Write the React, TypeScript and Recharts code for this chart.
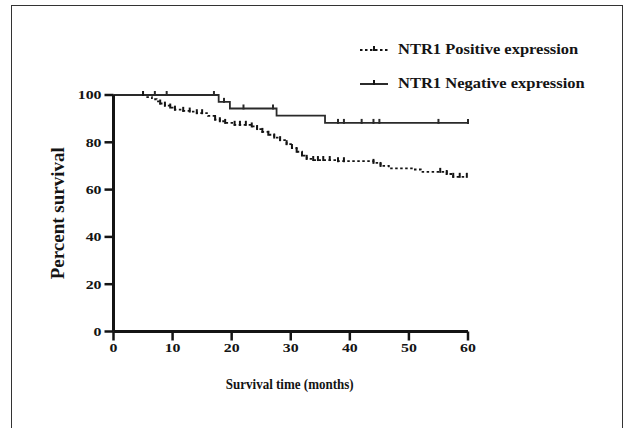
import React from "react";
import { ComposedChart, Line, XAxis, YAxis, Legend } from "recharts";

const xTicks = [0, 10, 20, 30, 40, 50, 60];
const yTicks = [0, 20, 40, 60, 80, 100];

const seriesNames = ["NTR1 Positive expression", "NTR1 Negative expression"];

const posTime = [0, 5, 5.5, 6.5, 7.3, 7.9, 8.7, 9.6, 10.4, 11.8, 12.9, 14.1, 15, 16, 17.2, 18, 18.9, 20.5, 21.4, 22.4, 23.4, 24.3, 25.2, 26.2, 27.2, 28.2, 29.3, 30.2, 31, 31.9, 32.7, 33.8, 34.6, 35.5, 36.6, 38, 39, 44, 45.2, 46.6, 50.8, 52, 55.3, 56.4, 57.5, 58.6, 59.8];
const posSurv = [100, 100, 99.1, 98.2, 97.3, 96.4, 95.5, 94.7, 93.8, 93.3, 93.0, 92.3, 92.3, 91.2, 89.6, 88.9, 88.2, 87.4, 87.4, 87.4, 86.7, 85.6, 84.4, 83.2, 82.0, 80.9, 79.2, 77.6, 76.0, 74.4, 73.0, 72.5, 72.5, 72.5, 72.5, 72.0, 72.0, 71.3, 70.0, 69.0, 68.5, 67.5, 67.5, 66.6, 65.4, 65.4, 65.4];
const posCens = [0, 1, 0, 0, 0, 1, 1, 1, 1, 1, 1, 1, 1, 0, 1, 1, 1, 1, 1, 1, 1, 1, 1, 1, 1, 1, 1, 1, 1, 1, 1, 1, 1, 1, 1, 1, 1, 1, 1, 0, 0, 0, 1, 1, 1, 1, 1];

const negTime = [0, 7, 9, 17, 17.8, 18.7, 19.7, 22, 27, 27.6, 35.8, 38, 39, 42, 44, 45, 55, 60];
const negSurv = [100, 100, 100, 100, 97.1, 97.1, 94.3, 94.3, 94.3, 91.3, 88.2, 88.2, 88.2, 88.2, 88.2, 88.2, 88.2, 88.2];
const negCens = [0, 1, 1, 1, 0, 1, 0, 1, 1, 0, 0, 1, 1, 1, 1, 1, 1, 1];

const posData = posTime.map((t, i) => ({ t, s: posSurv[i], c: posCens[i] }));
const negData = negTime.map((t, i) => ({ t, s: negSurv[i], c: negCens[i] }));

const FONT = "'Liberation Serif', 'Times New Roman', serif";
const INK = "#141414";

const censorDot = (color: string) => (props: any) => {
  const { cx, cy, payload, index } = props;
  if (!payload || !payload.c || cx == null || cy == null) return <g key={`n-${index}`} />;
  return (
    <line key={`c-${index}`} x1={cx} x2={cx} y1={cy - 4} y2={cy + 1} stroke={color} strokeWidth={2} />
  );
};

const YTick = (props: any) => {
  const { x, y, payload } = props;
  return (
    <text transform={`translate(${x},${y}) scale(1.22,1)`} x={0} y={0} textAnchor="end" dominantBaseline="central"
      fontFamily={FONT} fontWeight="bold" fontSize={13} fill={INK}>
      {payload.value}
    </text>
  );
};

const XTick = (props: any) => {
  const { x, y, payload } = props;
  return (
    <text transform={`translate(${x},${y}) scale(1.22,1)`} x={0} y={0} dy="0.72em" textAnchor="middle"
      fontFamily={FONT} fontWeight="bold" fontSize={13} fill={INK}>
      {payload.value}
    </text>
  );
};

const YTitle = (props: any) => {
  const { viewBox } = props;
  const cx = viewBox.x + 3.5;
  const cy = viewBox.y + viewBox.height / 2;
  return (
    <text x={cx} y={cy} transform={`rotate(-90, ${cx}, ${cy})`} textAnchor="middle" dominantBaseline="central"
      fontFamily={FONT} fontWeight="bold" fontSize={19} fill={INK}>
      Percent survival
    </text>
  );
};

const XTitle = (props: any) => {
  const { viewBox } = props;
  const cx = viewBox.x + viewBox.width / 2 - 1;
  const cy = viewBox.y + 53;
  return (
    <text transform={`translate(${cx},${cy}) scale(0.93,1)`} x={0} y={0} textAnchor="middle" dominantBaseline="central"
      fontFamily={FONT} fontWeight="bold" fontSize={14} fill={INK}>
      Survival time (months)
    </text>
  );
};

const LegendContent = () => {
  const rows = [
    { name: seriesNames[0], dash: "2.5 2.5" },
    { name: seriesNames[1], dash: undefined },
  ];
  return (
    <div style={{ fontFamily: FONT }}>
      {rows.map((r, i) => (
        <div key={i} style={{ display: "flex", alignItems: "center", height: 34 }}>
          <svg width={28} height={14} style={{ marginRight: 10 }}>
            <line x1={0} x2={28} y1={8} y2={8} stroke={INK} strokeWidth={1.8} strokeDasharray={r.dash} />
            <line x1={14} x2={14} y1={4} y2={9} stroke={INK} strokeWidth={2} />
          </svg>
          <span style={{ fontSize: 15, fontWeight: "bold", color: INK, display: "inline-block", transform: "scale(1.1,1)", transformOrigin: "left center", whiteSpace: "nowrap" }}>
            {r.name}
          </span>
        </div>
      ))}
    </div>
  );
};

export default function App() {
  return (
    <div style={{ position: "absolute", left: 0, top: 0, width: 623, height: 428, overflow: "hidden", background: "#fff" }}>
      <div style={{ position: "absolute", left: 11, top: 5, width: 610, height: 440, border: "1.5px solid #333" }} />
      <div style={{ position: "absolute", left: 0, top: 0 }}>
        <ComposedChart width={623} height={428} margin={{ top: 95, right: 155, bottom: 56.5, left: 53.5 }}>
          <XAxis dataKey="t" type="number" domain={[0, 60]} ticks={xTicks} interval={0}
            axisLine={{ stroke: INK, strokeWidth: 3 }} tickLine={{ stroke: INK, strokeWidth: 2.5 }}
            tickSize={9} tickMargin={2} height={40} tick={<XTick />} label={<XTitle />} />
          <YAxis type="number" domain={[0, 100]} ticks={yTicks} interval={0}
            axisLine={{ stroke: INK, strokeWidth: 3 }} tickLine={{ stroke: INK, strokeWidth: 2.5 }}
            tickSize={9} tickMargin={3} width={60} tick={<YTick />} label={<YTitle />} />
          <Legend layout="vertical" align="center" verticalAlign="middle"
            wrapperStyle={{ position: "absolute", left: 360, top: 32, width: 262 }} content={<LegendContent />} />
          <Line data={posData} dataKey="s" name={seriesNames[0]} type="stepAfter" stroke={INK} strokeWidth={1.8}
            strokeDasharray="2.5 2.5" dot={censorDot(INK)} activeDot={false} isAnimationActive={false} />
          <Line data={negData} dataKey="s" name={seriesNames[1]} type="stepAfter" stroke="#2a2a2a" strokeWidth={1.8}
            dot={censorDot("#2a2a2a")} activeDot={false} isAnimationActive={false} />
        </ComposedChart>
      </div>
    </div>
  );
}
